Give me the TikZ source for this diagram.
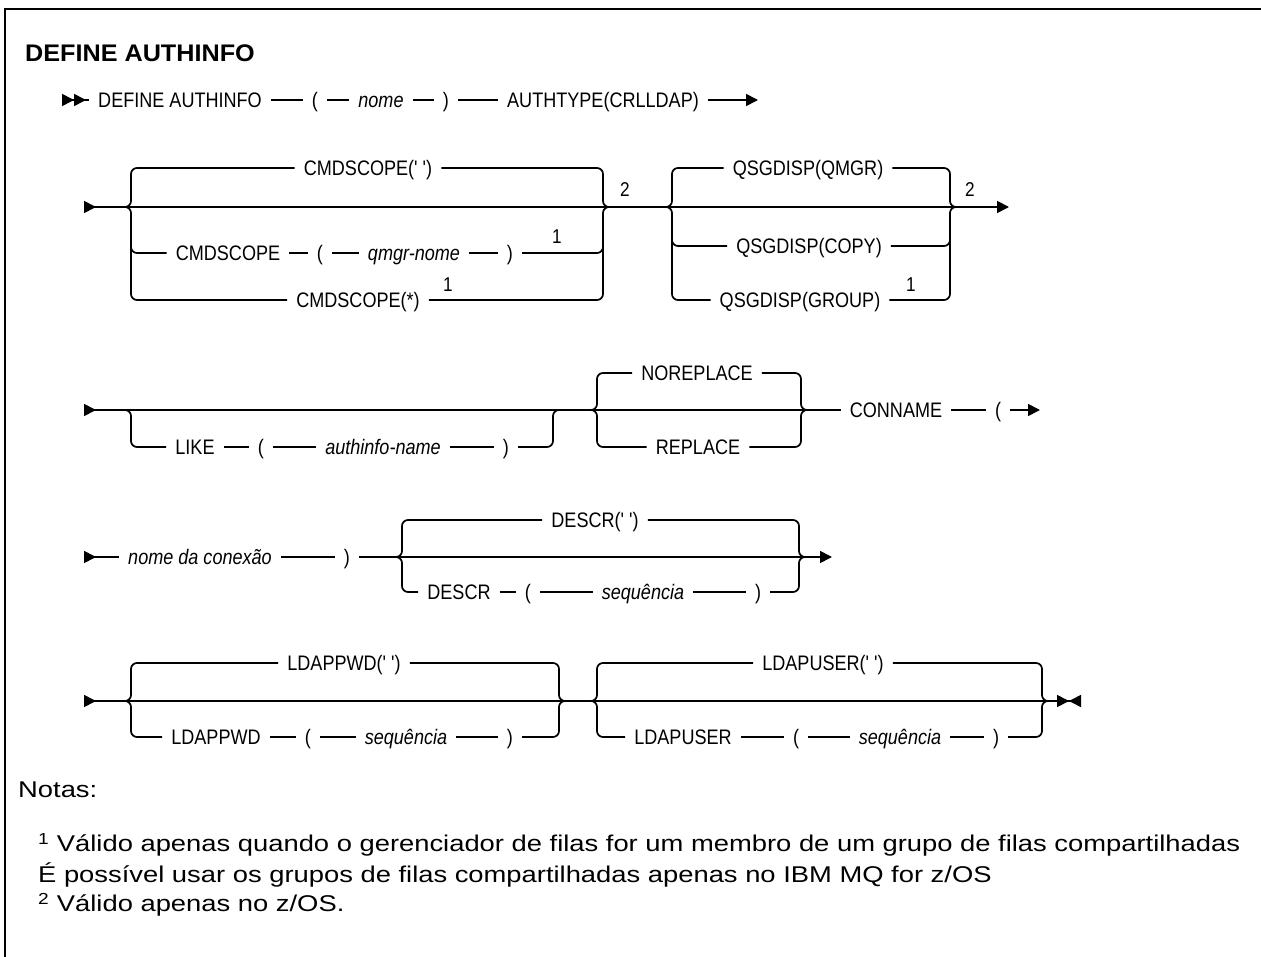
\documentclass[tikz,border=0pt]{standalone}
\usepackage{fontspec}
\setmainfont{Liberation Sans}[FakeStretch=1.05]
\newfontfamily\railfamily{Liberation Sans}[FakeStretch=0.86]
\newfontfamily\notefamily{Liberation Sans}[FakeStretch=1.2]
\usetikzlibrary{arrows.meta}

\newcommand{\kwfont}{\railfamily\fontsize{21}{24}\selectfont}
\newcommand{\varfont}{\railfamily\fontsize{21}{24}\selectfont\itshape}
\newcommand{\fnfont}{\railfamily\fontsize{20}{22}\selectfont}
\newcommand{\titlefont}{\fontsize{24}{28}\selectfont\bfseries}
\newcommand{\notefont}{\notefamily\fontsize{22.8}{28}\selectfont}

\tikzset{
  tri/.tip={Triangle[length=12pt, width=12pt]},
  rtri/.tip={Triangle[reversed, length=12pt, width=12pt]}
}

\begin{document}
\begin{tikzpicture}[x=1pt, y=-1pt,
  rail/.style={line width=1.7pt},
  brace/.style={rail, rounded corners=6pt},
  kw/.style={font=\kwfont, inner xsep=9pt, inner ysep=0pt, text height=15pt, text depth=0pt},
  var/.style={kw, font=\varfont},
  fn/.style={font=\fnfont, inner sep=0pt},
  note/.style={font=\notefont, inner sep=0pt, anchor=west}]
\useasboundingbox (0,0) rectangle (1261,957);

% frame
\draw[line width=2pt] (5,957) -- (5,9) -- (1261,9);

\node[font=\titlefont, inner sep=0pt, anchor=west] (title) at (25,53) {DEFINE AUTHINFO};

% row 1
\coordinate (r1s) at (62,100);
\node[kw] (defn) at (180,100) {DEFINE AUTHINFO};
\node[kw] (lp1) at (315,100) {(};
\node[var] (nome) at (381,100) {nome};
\node[kw] (rp1) at (446,100) {)};
\node[kw] (atype) at (603,100) {AUTHTYPE(CRLLDAP)};
\coordinate (r1e) at (758,100);
\draw[rail, {rtri[]rtri[]}-] (r1s) -- (defn);
\draw[rail] (defn) -- (lp1);
\draw[rail] (lp1) -- (nome);
\draw[rail] (nome) -- (rp1);
\draw[rail] (rp1) -- (atype);
\draw[rail, -{tri[]}] (atype) -- (r1e);

% row 2: CMDSCOPE / QSGDISP
\coordinate (r2s) at (84,207);
\coordinate (r2e) at (1009,207);
\draw[rail, {rtri[]}-{tri[]}] (r2s) -- (r2e);
\node[kw] (cmdq) at (368,168) {CMDSCOPE(' ')};
\node[kw] (cmdkw) at (228,253) {CMDSCOPE};
\node[kw] (lp2) at (320,253) {(};
\node[var] (qmgr) at (414,253) {qmgr-nome};
\node[kw] (rp2) at (510,253) {)};
\node[fn] (fn1a) at (557,237) {1};
\node[kw] (cmdstar) at (358,300) {CMDSCOPE(*)};
\node[fn] (fn1b) at (448,285) {1};
\node[fn] (fn2a) at (625,190) {2};
\draw[rail] (cmdkw) -- (lp2);
\draw[rail] (lp2) -- (qmgr);
\draw[rail] (qmgr) -- (rp2);
\draw[brace] (cmdq.west) -- (131,168) -- (131,207) -- (121,207);
\draw[brace] (cmdstar.west) -- (131,300) -- (131,207) -- (121,207);
\draw[brace] (131,230) -- (131,253) -- (cmdkw.west);
\draw[brace] (cmdq.east) -- (603,168) -- (603,207) -- (613,207);
\draw[brace] (cmdstar.east) -- (603,300) -- (603,207) -- (613,207);
\draw[brace] (rp2.east) -- (603,253) -- (603,230);
\node[kw] (qsgq) at (808,168) {QSGDISP(QMGR)};
\node[kw] (qsgc) at (809,246) {QSGDISP(COPY)};
\node[kw] (qsgg) at (800,300) {QSGDISP(GROUP)};
\node[fn] (fn1c) at (911,285) {1};
\node[fn] (fn2b) at (970,190) {2};
\draw[brace] (qsgq.west) -- (672,168) -- (672,207) -- (662,207);
\draw[brace] (qsgg.west) -- (672,300) -- (672,207) -- (662,207);
\draw[brace] (672,226) -- (672,246) -- (qsgc.west);
\draw[brace] (qsgq.east) -- (950,168) -- (950,207) -- (960,207);
\draw[brace] (qsgg.east) -- (950,300) -- (950,207) -- (960,207);
\draw[brace] (qsgc.east) -- (950,246) -- (950,226);

% row 3: LIKE / NOREPLACE / CONNAME
\coordinate (r3s) at (84,410);
\node[kw] (like) at (195,447) {LIKE};
\node[kw] (lp3) at (261,447) {(};
\node[var] (ainame) at (383,447) {authinfo-name};
\node[kw] (rp3) at (506,447) {)};
\draw[rail] (like) -- (lp3);
\draw[rail] (lp3) -- (ainame);
\draw[rail] (ainame) -- (rp3);
\draw[brace] (like.west) -- (131,447) -- (131,410) -- (121,410);
\draw[brace] (rp3.east) -- (553,447) -- (553,410) -- (563,410);
\node[kw] (norep) at (697,373) {NOREPLACE};
\node[kw] (rep) at (698,447) {REPLACE};
\draw[brace] (norep.west) -- (597,373) -- (597,410) -- (587,410);
\draw[brace] (rep.west) -- (597,447) -- (597,410) -- (587,410);
\draw[brace] (norep.east) -- (801,373) -- (801,410) -- (811,410);
\draw[brace] (rep.east) -- (801,447) -- (801,410) -- (811,410);
\node[kw] (conname) at (896,410) {CONNAME};
\node[kw] (lp3b) at (998,410) {(};
\coordinate (r3e) at (1040,410);
\draw[rail, {rtri[]}-] (r3s) -- (conname);
\draw[rail] (conname) -- (lp3b);
\draw[rail, -{tri[]}] (lp3b) -- (r3e);

% row 4: connection name / DESCR
\coordinate (r4s) at (84,557);
\node[var] (conn) at (200,557) {nome da conexão};
\node[kw] (rp4) at (347,557) {)};
\coordinate (r4e) at (832,557);
\draw[rail, {rtri[]}-] (r4s) -- (conn);
\draw[rail] (conn) -- (rp4);
\draw[rail, -{tri[]}] (rp4) -- (r4e);
\node[kw] (descrq) at (595,520) {DESCR(' ')};
\node[kw] (descr) at (459,592) {DESCR};
\node[kw] (lp4) at (528,592) {(};
\node[var] (seq1) at (643,592) {sequência};
\node[kw] (rp4b) at (758,592) {)};
\draw[rail] (descr) -- (lp4);
\draw[rail] (lp4) -- (seq1);
\draw[rail] (seq1) -- (rp4b);
\draw[brace] (descrq.west) -- (402,520) -- (402,557) -- (392,557);
\draw[brace] (descr.west) -- (402,592) -- (402,557) -- (392,557);
\draw[brace] (descrq.east) -- (799,520) -- (799,557) -- (809,557);
\draw[brace] (rp4b.east) -- (799,592) -- (799,557) -- (809,557);

% row 5: LDAPPWD / LDAPUSER
\coordinate (r5s) at (84,701);
\coordinate (r5e) at (1081,701);
\draw[rail, {rtri[]}-{tri[]rtri[]}] (r5s) -- (r5e);
\node[kw] (pwdq) at (344,663) {LDAPPWD(' ')};
\node[kw] (pwd) at (216,737) {LDAPPWD};
\node[kw] (lp5) at (308,737) {(};
\node[var] (seq2) at (406,737) {sequência};
\node[kw] (rp5) at (510,737) {)};
\draw[rail] (pwd) -- (lp5);
\draw[rail] (lp5) -- (seq2);
\draw[rail] (seq2) -- (rp5);
\draw[brace] (pwdq.west) -- (131,663) -- (131,701) -- (121,701);
\draw[brace] (pwd.west) -- (131,737) -- (131,701) -- (121,701);
\draw[brace] (pwdq.east) -- (559,663) -- (559,701) -- (569,701);
\draw[brace] (rp5.east) -- (559,737) -- (559,701) -- (569,701);
\node[kw] (userq) at (823,663) {LDAPUSER(' ')};
\node[kw] (user) at (683,737) {LDAPUSER};
\node[kw] (lp6) at (796,737) {(};
\node[var] (seq3) at (900,737) {sequência};
\node[kw] (rp6) at (996,737) {)};
\draw[rail] (user) -- (lp6);
\draw[rail] (lp6) -- (seq3);
\draw[rail] (seq3) -- (rp6);
\draw[brace] (userq.west) -- (597,663) -- (597,701) -- (587,701);
\draw[brace] (user.west) -- (597,737) -- (597,701) -- (587,701);
\draw[brace] (userq.east) -- (1042,663) -- (1042,701) -- (1052,701);
\draw[brace] (rp6.east) -- (1042,737) -- (1042,701) -- (1052,701);

% notes
\node[note] (notas) at (18,790) {Notas:};
\node[note] (n1) at (38,845) {\textsuperscript{1} Válido apenas quando o gerenciador de filas for um membro de um grupo de filas compartilhadas};
\node[note] (n1b) at (38,875) {É possível usar os grupos de filas compartilhadas apenas no IBM MQ for z/OS};
\node[note] (n2) at (38,905) {\textsuperscript{2} Válido apenas no z/OS.};
\end{tikzpicture}
\end{document}
